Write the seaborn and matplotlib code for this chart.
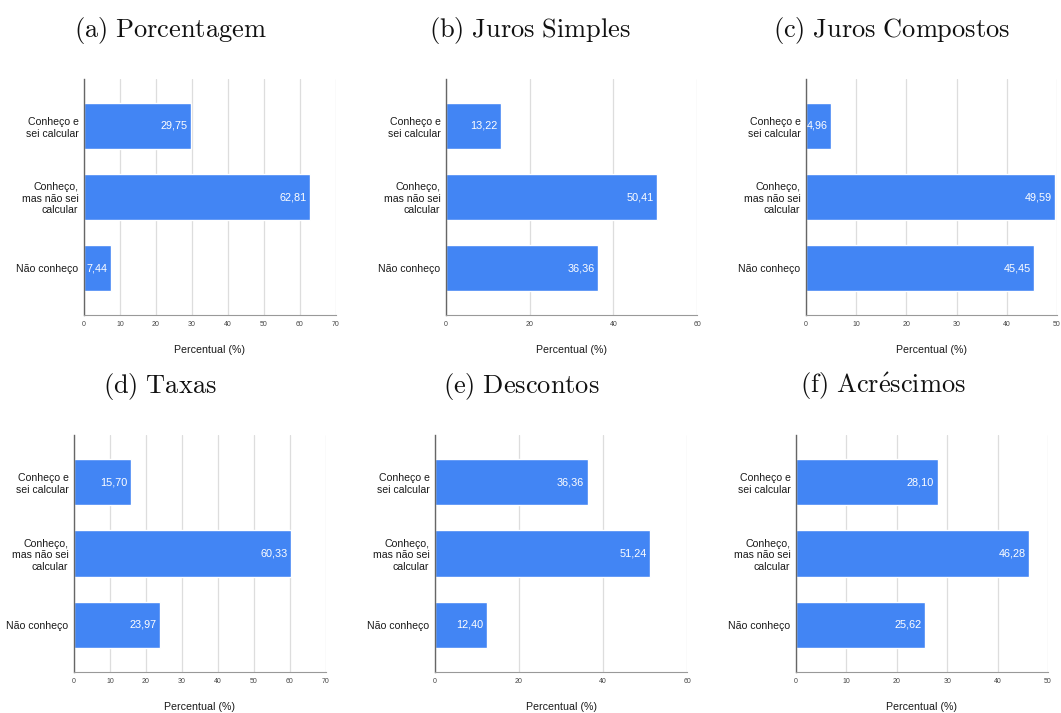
import matplotlib
matplotlib.use("Agg")
import matplotlib.pyplot as plt
import seaborn as sns
import pandas as pd

categories = ["Conheço e\nsei calcular", "Conheço,\nmas não sei\ncalcular", "Não conheço"]
titles = [r"$\mathrm{(a)\ Porcentagem}$", r"$\mathrm{(b)\ Juros\ Simples}$",
          r"$\mathrm{(c)\ Juros\ Compostos}$", r"$\mathrm{(d)\ Taxas}$",
          r"$\mathrm{(e)\ Descontos}$", r"$\mathrm{(f)\ Acr\acute{e}scimos}$"]
porcentagem = [29.75, 62.81, 7.44]
juros_simples = [13.22, 50.41, 36.36]
juros_compostos = [4.96, 49.59, 45.45]
taxas = [15.70, 60.33, 23.97]
descontos = [36.36, 51.24, 12.40]
acrescimos = [28.10, 46.28, 25.62]
series = [porcentagem, juros_simples, juros_compostos, taxas, descontos, acrescimos]
xmax = [70, 60, 50, 70, 60, 50]
xticks_step = [10, 20, 10, 10, 20, 10]

sns.set_theme(style="white")
plt.rcParams['font.family'] = ['Liberation Sans', 'DejaVu Sans']
plt.rcParams['mathtext.fontset'] = 'cm'

W, H = 1061, 713
fig = plt.figure(figsize=(W / 100, H / 100), dpi=100)

# pixel boxes: left, right, top, bottom
boxes = [(84, 336, 79, 315), (446, 697, 79, 315), (806, 1057, 79, 315),
         (74, 326, 435, 672), (435, 687, 435, 672), (796, 1048, 435, 672)]
title_pos = [(170, 30), (530, 30), (892, 30), (160, 386), (521, 386), (883, 386)]
bar_color = "#4285F4"

for i, (vals, box) in enumerate(zip(series, boxes)):
    l, r, t, b = box
    ax = fig.add_axes([l / W, 1 - b / H, (r - l) / W, (b - t) / H])
    df = pd.DataFrame({"cat": categories, "val": vals})
    sns.barplot(data=df, x="val", y="cat", orient="h", color=bar_color,
                saturation=1, width=0.65, ax=ax)
    ax.set_xlim(0, xmax[i])
    ax.set_ylim(2.66, -0.66)
    ax.set_xticks(range(0, xmax[i] + 1, xticks_step[i]))
    ax.tick_params(axis="x", labelsize=5, colors="#444444", length=0, pad=4)
    ax.tick_params(axis="y", labelsize=7.6, colors="#1a1a1a", length=0, pad=4)
    for lab in ax.get_yticklabels():
        lab.set_horizontalalignment("right")
        lab.set_multialignment("right")
    ax.grid(axis="x", color="#dddddd", linewidth=0.9)
    ax.set_axisbelow(True)
    for s in ["top", "right"]:
        ax.spines[s].set_visible(False)
    ax.spines["left"].set_color("#666666")
    ax.spines["bottom"].set_color("#999999")
    ax.spines["left"].set_linewidth(1.0)
    ax.spines["bottom"].set_linewidth(0.8)
    ax.set_ylabel("")
    ax.set_xlabel("Percentual (%)", fontsize=7.7, color="#1a1a1a", labelpad=12.5)
    for p, v in zip(ax.patches, vals):
        ax.annotate(f"{v:.2f}".replace(".", ","),
                    xy=(p.get_width(), p.get_y() + p.get_height() / 2),
                    xytext=(-2.5, 0), textcoords="offset points",
                    ha="right", va="center", color="white", fontsize=7.8)
    tx, ty = title_pos[i]
    fig.text(tx / W, 1 - ty / H, titles[i], ha="center", va="center",
             fontsize=19, color="#111111")

fig.savefig("out.png", dpi=100)
